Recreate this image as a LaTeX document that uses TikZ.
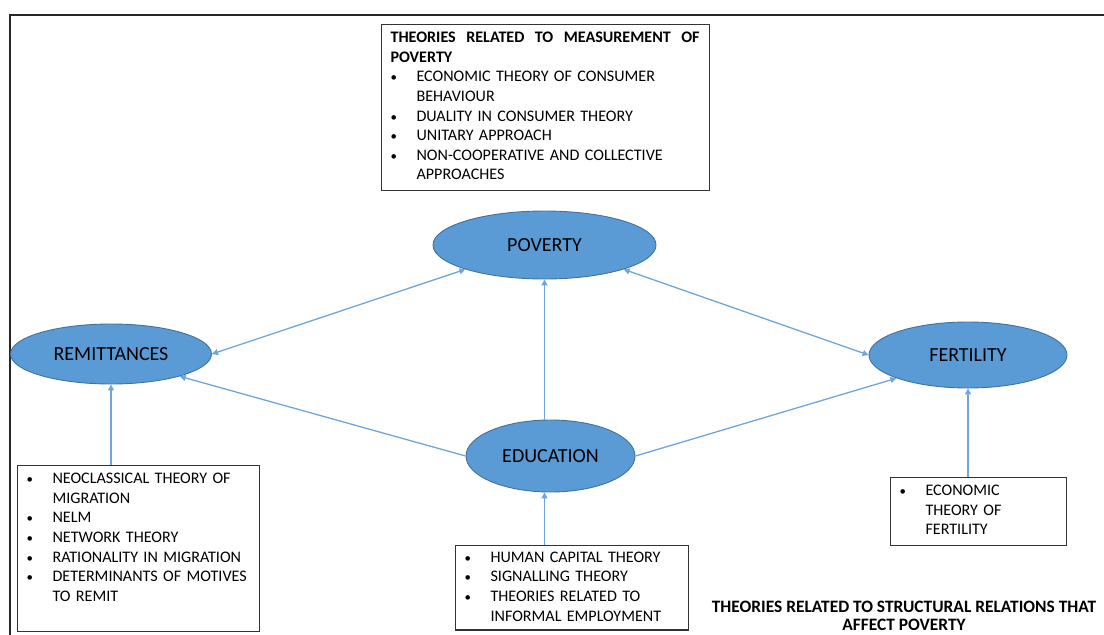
\documentclass[tikz,border=0pt]{standalone}
\usepackage{fontspec}
\setmainfont{Carlito}
\usetikzlibrary{shapes.geometric,arrows.meta}
\definecolor{ovalblue}{HTML}{5B9BD5}
\definecolor{ovalline}{HTML}{41719C}
\definecolor{linkblue}{HTML}{6FA5DA}
\newcommand{\bodysize}{\fontsize{16.1}{19.6}\selectfont}
\newcommand{\bul}{\scalebox{0.8}{\textbullet}}
\newcommand{\blist}[1]{\begin{tabular}{@{}p{26pt}@{}l@{}}#1\end{tabular}}
\begin{document}
\begin{tikzpicture}[x=1pt,y=-1pt,font=\bodysize,>={Triangle[width=6pt,length=6pt]},
  oval/.style={ellipse,draw=ovalline,line width=0.9pt,fill=ovalblue,inner sep=0pt,font=\fontsize{20}{24}\selectfont},
  listbox/.style={draw=black!80,line width=1.1pt,anchor=north west,inner xsep=9pt,inner ysep=4.5pt,align=left},
  link/.style={draw=linkblue,line width=1.3pt}]
\useasboundingbox (0,0) rectangle (1104,635);
\draw[line width=2pt,black!85] (10,635)--(10,15)--(1104,15);
\node[oval,minimum width=223pt,minimum height=68pt] (poverty) at (544.5,245) {POVERTY};
\node[oval,minimum width=201pt,minimum height=60pt] (remit) at (111,354) {REMITTANCES};
\node[oval,minimum width=198pt,minimum height=66pt] (fert) at (968,355) {FERTILITY};
\node[oval,minimum width=169pt,minimum height=72pt] (edu) at (550.5,456) {EDUCATION};
\node[listbox,text width=310pt] (measbox) at (381,24) {\blist{%
  \multicolumn{2}{@{}l@{}}{\bfseries\hbox to 309pt{THEORIES\hfill RELATED\hfill TO\hfill MEASUREMENT\hfill OF}}\\
  \multicolumn{2}{@{}l@{}}{\bfseries POVERTY}\\
  \bul & ECONOMIC THEORY OF CONSUMER\\
  & BEHAVIOUR\\
  \bul & DUALITY IN CONSUMER THEORY\\
  \bul & UNITARY APPROACH\\
  \bul & NON-COOPERATIVE AND COLLECTIVE\\
  & APPROACHES}};
\node[listbox,text width=224pt] (remitbox) at (17,465) {\blist{%
  \bul & NEOCLASSICAL THEORY OF\\
  & MIGRATION\\
  \bul & NELM\\
  \bul & NETWORK THEORY\\
  \bul & RATIONALITY IN MIGRATION\\
  \bul & DETERMINANTS OF MOTIVES\\
  & TO REMIT\\
  & }};
\node[listbox,text width=215pt,inner ysep=3pt] (edubox) at (455,545) {\blist{%
  \bul & HUMAN CAPITAL THEORY\\
  \bul & SIGNALLING THEORY\\
  \bul & THEORIES RELATED TO\\
  & INFORMAL EMPLOYMENT}};
\node[listbox,text width=158pt] (fertbox) at (890,477) {\blist{%
  \bul & ECONOMIC\\
  & THEORY OF\\
  & FERTILITY}};
\node[font=\fontsize{17.4}{18}\selectfont\bfseries,align=center] (caption) at (904,616)
  {THEORIES RELATED TO STRUCTURAL RELATIONS THAT\\AFFECT POVERTY};
\draw[link,<->] (remit.east) -- (poverty.south west);
\draw[link,<->] (poverty.south east) -- (fert.west);
\draw[link,->] (edu.north -| poverty.south) -- (poverty.south);
\draw[link,->] (edu.west) -- (remit.-18);
\draw[link,->] (edu.east) -- (fert.198);
\draw[link,->] (remitbox.north -| remit.south) -- (remit.south);
\draw[link,->] (edubox.north -| poverty.south) -- (edu.south -| poverty.south);
\draw[link,->] (fertbox.north -| fert.south) -- (fert.south);
\end{tikzpicture}
\end{document}
